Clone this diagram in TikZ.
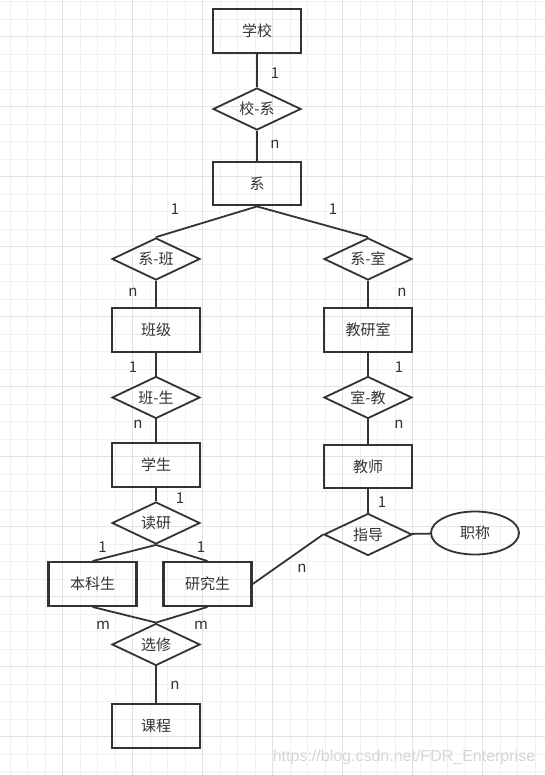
\documentclass[tikz,border=0pt]{standalone}
\usepackage{fontspec}
\setmainfont{Noto Sans CJK SC}
\newfontfamily\wmfont{Liberation Sans}
\usetikzlibrary{shapes.geometric}
\definecolor{ink}{HTML}{333333}
\definecolor{gridlo}{HTML}{F0F0F0}
\definecolor{gridhi}{HTML}{E2E2E2}

\tikzset{
  entity/.style={draw=ink, line width=2.4pt, minimum width=88pt, minimum height=43.5pt, inner sep=0pt, text=ink},
  relation/.style={diamond, aspect=2, draw=ink, line width=1.8pt, minimum width=88pt, minimum height=42pt, inner sep=0pt, text=ink},
  attrib/.style={ellipse, draw=ink, line width=1.8pt, minimum width=88pt, minimum height=43pt, inner sep=0pt, text=ink},
  card/.style={text=ink, inner sep=0pt},
  link/.style={draw=ink, line width=1.8pt}
}

\begin{document}
\begin{tikzpicture}[x=1pt, y=-1pt, font=\fontsize{15}{17}\selectfont]
\useasboundingbox (0,0) rectangle (545,775);
\fill[white] (0,0) rectangle (545,775);

% background grid
\foreach \i in {0,...,30}
{
\draw[gridlo, line width=1pt] ({10.1+17.5*\i},0) -- ({10.1+17.5*\i},775);
}
\foreach \i in {0,...,44}
{
\draw[gridlo, line width=1pt] (0,{1.7+17.5*\i}) -- (545,{1.7+17.5*\i});
}
\foreach \i in {0,...,6}
{
\draw[gridhi, line width=1pt] ({62.6+70*\i},0) -- ({62.6+70*\i},775);
}
\foreach \i in {0,...,10}
{
\draw[gridhi, line width=1pt] (0,{36.7+70*\i}) -- (545,{36.7+70*\i});
}

\node[entity] (xuexiao) at (257,31) {学校};
\node[relation] (xiaoxi) at (257,109) {校-系};
\node[entity] (xi) at (257,183.5) {系};
\node[relation] (xiban) at (156,259) {系-班};
\node[relation] (xishi) at (368,259) {系-室};
\node[entity] (banji) at (156,330) {班级};
\node[entity] (jiaoyanshi) at (368,330) {教研室};
\node[relation] (bansheng) at (156,397.5) {班-生};
\node[relation] (shijiao) at (368,397.5) {室-教};
\node[entity] (xuesheng) at (156,465) {学生};
\node[entity] (jiaoshi) at (368,466.5) {教师};
\node[relation] (duyan) at (156,523) {读研};
\node[relation] (zhidao) at (368,534.5) {指导};
\node[attrib] (zhicheng) at (475,533) {职称};
\node[entity] (benke) at (92.5,584) {本科生};
\node[entity] (yanjiu) at (207.5,584) {研究生};
\node[relation] (xuanxiu) at (156,644.5) {选修};
\node[entity] (kecheng) at (156,726) {课程};

\draw[link] (xuexiao) -- (xiaoxi) -- (xi);
\draw[link] (xi.south) -- (xiban.north) (xi.south) -- (xishi.north);
\draw[link] (xiban) -- (banji) -- (bansheng) -- (xuesheng) -- (duyan);
\draw[link] (xishi) -- (jiaoyanshi) -- (shijiao) -- (jiaoshi) -- (zhidao);
\draw[link] (duyan.south) -- (benke.north) (duyan.south) -- (yanjiu.north);
\draw[link] (benke.south) -- (xuanxiu.north) (yanjiu.south) -- (xuanxiu.north);
\draw[link] (xuanxiu) -- (kecheng);
\draw[link] (yanjiu.east) -- (zhidao.west);
\draw[link] (zhidao) -- (zhicheng);

\node[card] (c1) at (275,73) {1};
\node[card] (c2) at (275,144) {n};
\node[card] (c3) at (175,209) {1};
\node[card] (c4) at (333,209) {1};
\node[card] (c5) at (133,292) {n};
\node[card] (c6) at (402,292) {n};
\node[card] (c7) at (133,367) {1};
\node[card] (c8) at (399,367) {1};
\node[card] (c9) at (138,424) {n};
\node[card] (c10) at (399,424) {n};
\node[card] (c11) at (180,498) {1};
\node[card] (c12) at (382,502) {1};
\node[card] (c13) at (102.5,547) {1};
\node[card] (c14) at (201,547) {1};
\node[card] (c15) at (302,568) {n};
\node[card] (c16) at (103,625) {m};
\node[card] (c17) at (201,625) {m};
\node[card] (c18) at (175,685) {n};

\node[text=black!16, inner sep=0pt, font=\wmfont\fontsize{16}{18}\selectfont] (wm) at (404,757) {https://blog.csdn.net/FDR\_Enterprise};
\end{tikzpicture}
\end{document}
